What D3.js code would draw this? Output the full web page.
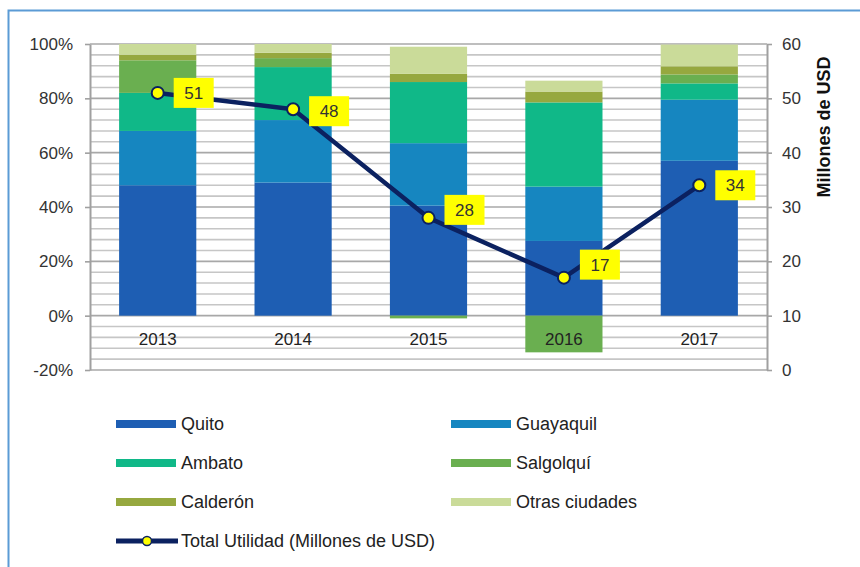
<!DOCTYPE html>
<html>
<head>
<meta charset="utf-8">
<script src="https://cdn.jsdelivr.net/npm/d3@7"></script>
<style>
  body { margin: 0; background: #fff; }
  svg { display: block; font-family: "Liberation Sans", Arial, sans-serif; }
</style>
</head>
<body>
<script>
// Data
var years = ["2013", "2014", "2015", "2016", "2017"];
var quito = [48, 49, 40.5, 27.5, 57];
var guayaquil = [20, 23, 23, 20, 22.5];
var ambato = [14, 19.5, 22.5, 31, 6];
var salgolqui = [12, 3.3, -1, -13.5, 3.3];
var calderon = [2, 2, 3, 4, 3];
var otras = [4, 3.2, 10, 4, 8];
var utilidad = [51, 48, 28, 17, 34];

var seriesNames = ["Quito", "Guayaquil", "Ambato", "Salgolquí", "Calderón", "Otras ciudades"];
var seriesValues = [quito, guayaquil, ambato, salgolqui, calderon, otras];
var colors = ["#1e5eb3", "#1686c0", "#10b888", "#6aaf50", "#96a83f", "#cadb99"];
var leftTicks = [-20, 0, 20, 40, 60, 80, 100];
var rightTicks = [0, 10, 20, 30, 40, 50, 60];
var lineLabel = "Total Utilidad (Millones de USD)";

var W = 860, H = 567;
var plot = { left: 90, right: 767, top: 44, bottom: 370 };
var navy = "#0b2160";
var font = "'Liberation Sans', Arial, sans-serif";

var svg = d3.select("body").append("svg")
    .attr("width", W)
    .attr("height", H);

// outer frame (blue, only top and left visible)
svg.append("path")
    .attr("d", "M8.5," + H + "V10.5H" + W)
    .attr("fill", "none")
    .attr("stroke", "#5b9bd5")
    .attr("stroke-width", 2);

// Scales
var x = d3.scaleBand()
    .domain(years)
    .range([plot.left, plot.right])
    .paddingInner(0.43)
    .paddingOuter(0.215);
var yL = d3.scaleLinear().domain([-20, 100]).range([plot.bottom, plot.top]);
var yR = d3.scaleLinear().domain([0, 60]).range([plot.bottom, plot.top]);

// Gridlines: minor every 4%, major every 20%
svg.append("g").selectAll("line")
    .data(d3.range(-20, 101, 4))
    .enter().append("line")
    .attr("x1", plot.left)
    .attr("x2", plot.right)
    .attr("y1", function (d) { return yL(d); })
    .attr("y2", function (d) { return yL(d); })
    .attr("stroke", function (d) { return d % 20 === 0 ? "#a8a8a8" : "#c6c6c6"; })
    .attr("stroke-width", 1.6);

// Stacked bars
var rows = years.map(function (y, i) {
    var r = { year: y };
    seriesNames.forEach(function (s, j) { r[s] = seriesValues[j][i]; });
    return r;
});
var layers = d3.stack()
    .keys(seriesNames)
    .offset(d3.stackOffsetDiverging)(rows);

svg.append("g").selectAll("g")
    .data(layers)
    .enter().append("g")
    .attr("fill", function (d, i) { return colors[i]; })
    .selectAll("rect")
    .data(function (d) { return d; })
    .enter().append("rect")
    .attr("x", function (d) { return x(d.data.year); })
    .attr("width", x.bandwidth())
    .attr("y", function (d) { return yL(Math.max(d[0], d[1])); })
    .attr("height", function (d) { return Math.abs(yL(d[0]) - yL(d[1])); });

// Left axis
var leftAxis = svg.append("g")
    .attr("transform", "translate(" + plot.left + ",0)")
    .call(d3.axisLeft(yL)
        .tickValues(leftTicks)
        .tickSize(5)
        .tickPadding(12)
        .tickSizeOuter(0)
        .tickFormat(function (d) { return d + "%"; }));

// Right axis
var rightAxis = svg.append("g")
    .attr("transform", "translate(" + plot.right + ",0)")
    .call(d3.axisRight(yR)
        .tickValues(rightTicks)
        .tickSize(5)
        .tickPadding(10)
        .tickSizeOuter(0));

[leftAxis, rightAxis].forEach(function (a) {
    a.select(".domain").attr("stroke", "#a0a0a0").attr("stroke-width", 2);
    a.selectAll(".tick line").attr("stroke", "#a0a0a0").attr("stroke-width", 1.6);
    a.selectAll("text")
        .attr("font-size", 17)
        .attr("fill", "#333")
        .attr("font-family", font);
});

// Category labels
var catAxis = svg.append("g")
    .attr("transform", "translate(0," + yL(0) + ")")
    .call(d3.axisBottom(x).tickSize(0).tickPadding(17));
catAxis.select(".domain").remove();
catAxis.selectAll("text")
    .attr("font-size", 17)
    .attr("fill", "#222")
    .attr("font-family", font);

// Right axis title
svg.append("text")
    .attr("transform", "translate(830,127) rotate(-90)")
    .attr("text-anchor", "middle")
    .attr("font-size", 18)
    .attr("font-weight", "bold")
    .attr("fill", "#111")
    .text("Millones de USD");

// Line
var line = d3.line()
    .x(function (d, i) { return x(years[i]) + x.bandwidth() / 2; })
    .y(function (d) { return yR(d); });

svg.append("path")
    .datum(utilidad)
    .attr("fill", "none")
    .attr("stroke", navy)
    .attr("stroke-width", 4.5)
    .attr("stroke-linejoin", "round")
    .attr("d", line);

svg.append("g").selectAll("circle")
    .data(utilidad)
    .enter().append("circle")
    .attr("cx", function (d, i) { return x(years[i]) + x.bandwidth() / 2; })
    .attr("cy", function (d) { return yR(d); })
    .attr("r", 6)
    .attr("fill", "#ffff00")
    .attr("stroke", navy)
    .attr("stroke-width", 2);

// Data labels in yellow boxes
var labelShift = [0, 2, -8, -13, 0];
var labels = svg.append("g").selectAll("g")
    .data(utilidad)
    .enter().append("g")
    .attr("transform", function (d, i) {
        return "translate(" + (x(years[i]) + x.bandwidth() / 2 + 16) + "," + (yR(d) - 15 + labelShift[i]) + ")";
    });
labels.append("rect")
    .attr("width", 40)
    .attr("height", 30)
    .attr("fill", "#ffff00");
labels.append("text")
    .attr("x", 20)
    .attr("y", 15)
    .attr("dy", "0.35em")
    .attr("text-anchor", "middle")
    .attr("font-size", 17)
    .attr("fill", "#333")
    .text(function (d) { return d; });

// Legend
var legend = svg.append("g");
var legendItems = legend.selectAll("g")
    .data(seriesNames)
    .enter().append("g")
    .attr("transform", function (d, i) {
        return "translate(" + (i % 2 === 0 ? 116 : 451) + "," + (424 + Math.floor(i / 2) * 39) + ")";
    });
legendItems.append("rect")
    .attr("y", -4)
    .attr("width", 60)
    .attr("height", 8)
    .attr("fill", function (d, i) { return colors[i]; });
legendItems.append("text")
    .attr("x", 65)
    .attr("dy", "0.35em")
    .attr("font-size", 18)
    .attr("fill", "#222")
    .text(function (d) { return d; });

var lineItem = legend.append("g").attr("transform", "translate(116,541)");
lineItem.append("line")
    .attr("x1", 0).attr("x2", 62)
    .attr("stroke", navy)
    .attr("stroke-width", 5);
lineItem.append("circle")
    .attr("cx", 31)
    .attr("r", 4.5)
    .attr("fill", "#ffff00")
    .attr("stroke", navy)
    .attr("stroke-width", 1.5);
lineItem.append("text")
    .attr("x", 65)
    .attr("dy", "0.35em")
    .attr("font-size", 18)
    .attr("fill", "#222")
    .text(lineLabel);
</script>
</body>
</html>
